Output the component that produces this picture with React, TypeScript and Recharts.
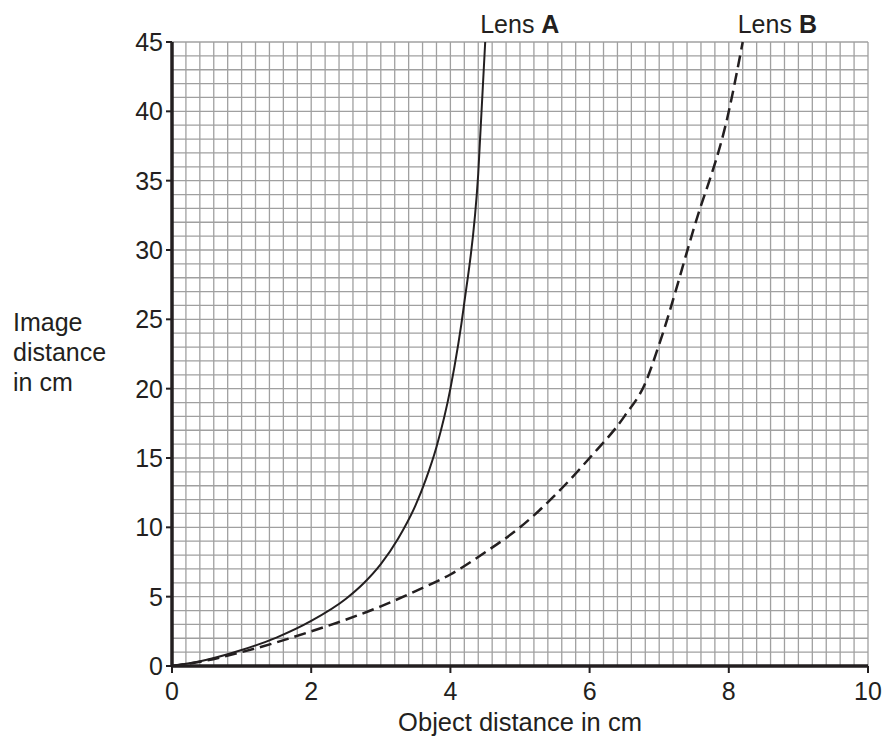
import React from 'react'
import { LineChart, Line, XAxis, YAxis, CartesianGrid, ReferenceDot, Label } from 'recharts'

// object distance (cm) / image distance (cm)
const lensAX = [0, 0.5, 1, 1.5, 2, 2.5, 2.75, 3, 3.25, 3.5, 3.65, 3.8, 4, 4.2, 4.4, 4.5]
const lensAY = [0, 0.45, 1.15, 2.05, 3.25, 4.85, 5.95, 7.35, 9.2, 11.6, 13.5, 15.8, 20, 26.2, 35.5, 45]
const lensBX = [0, 0.5, 1, 2, 3, 3.5, 4, 4.5, 5, 5.5, 6, 6.5, 6.8, 7, 7.5, 8, 8.2]
const lensBY = [0, 0.4, 1.0, 2.5, 4.3, 5.4, 6.6, 8.2, 10, 12.3, 15, 18, 20.4, 23.2, 31.6, 40, 45]

const xTickLabels = [0, 2, 4, 6, 8, 10]
const yTickLabels = [0, 5, 10, 15, 20, 25, 30, 35, 40, 45]

// graph paper: small squares of 0.2 cm across and 1 cm up
const xMinor = Array.from({ length: 51 }, (_, i) => Math.round(i * 2) / 10)
const yMinor = Array.from({ length: 46 }, (_, i) => i)

const lensA = lensAX.map((x, i) => ({ x, y: lensAY[i] }))
const lensB = lensBX.map((x, i) => ({ x, y: lensBY[i] }))

const FONT = '"Liberation Sans", Arial, sans-serif'
const INK = '#231f20'

const XTick = (props: any) => {
  const { x, y, payload } = props
  const v = payload.value
  if (!xTickLabels.includes(v)) return null
  return (
    <g>
      <line x1={x} x2={x} y1={y - 8} y2={y - 1} stroke={INK} strokeWidth={2} />
      <text x={x} y={y + 26} textAnchor="middle" fontFamily={FONT} fontSize={25} fill={INK}>
        {v}
      </text>
    </g>
  )
}

const YTick = (props: any) => {
  const { x, y, payload } = props
  const v = payload.value
  if (!yTickLabels.includes(v)) return null
  return (
    <g>
      <line x1={x + 2} x2={x + 8} y1={y} y2={y} stroke={INK} strokeWidth={2} />
      <text x={x - 1} y={y + 9} textAnchor="end" fontFamily={FONT} fontSize={25} fill={INK}>
        {v}
      </text>
    </g>
  )
}

const YTitle = (props: any) => {
  const vb = props.viewBox || { x: 0, y: 42, width: 172, height: 624 }
  const cy = vb.y + vb.height / 2
  const x = vb.x + 13
  return (
    <text fontFamily={FONT} fontSize={25} fill={INK}>
      <tspan x={x} y={cy - 23}>Image</tspan>
      <tspan x={x} y={cy + 7}>distance</tspan>
      <tspan x={x} y={cy + 37}>in cm</tspan>
    </text>
  )
}

const lensTag = (name: string) => (props: any) => {
  const vb = props.viewBox || { x: 0, y: 0, width: 0, height: 0 }
  const cx = vb.x + (vb.width || 0) / 2
  const cy = vb.y + (vb.height || 0) / 2
  return (
    <text x={cx - 5} y={cy - 9} fontFamily={FONT} fontSize={25} fill={INK}>
      Lens <tspan fontWeight="bold">{name}</tspan>
    </text>
  )
}

export default function App() {
  return (
    <div style={{ position: 'absolute', left: 0, top: 0, width: 884, height: 738, background: '#fff' }}>
      <LineChart width={884} height={738} margin={{ top: 42, right: 16, bottom: 0, left: 0 }}>
        <CartesianGrid stroke="#a0a0a0" strokeWidth={1.3} />
        <XAxis
          type="number"
          dataKey="x"
          domain={[0, 10]}
          ticks={xMinor}
          interval={0}
          height={72}
          tickLine={false}
          tick={<XTick />}
          axisLine={{ stroke: INK, strokeWidth: 3.5 }}
          allowDuplicatedCategory={false}
        >
          <Label
            value="Object distance in cm"
            position="insideBottom"
            offset={7}
            style={{ fontFamily: FONT, fontSize: 25.5, fill: INK }}
          />
        </XAxis>
        <YAxis
          type="number"
          dataKey="y"
          domain={[0, 45]}
          ticks={yMinor}
          interval={0}
          width={172}
          tickLine={false}
          tick={<YTick />}
          axisLine={{ stroke: INK, strokeWidth: 3.5 }}
        >
          <Label content={YTitle} />
        </YAxis>
        <Line
          data={lensA}
          dataKey="y"
          type="monotone"
          stroke={INK}
          strokeWidth={2}
          dot={false}
          isAnimationActive={false}
        />
        <Line
          data={lensB}
          dataKey="y"
          type="monotone"
          stroke={INK}
          strokeWidth={2.5}
          strokeDasharray="12 6"
          dot={false}
          isAnimationActive={false}
        />
        <ReferenceDot x={4.5} y={45} r={1} fill="none" stroke="none" label={lensTag('A')} />
        <ReferenceDot x={8.2} y={45} r={1} fill="none" stroke="none" label={lensTag('B')} />
      </LineChart>
    </div>
  )
}
